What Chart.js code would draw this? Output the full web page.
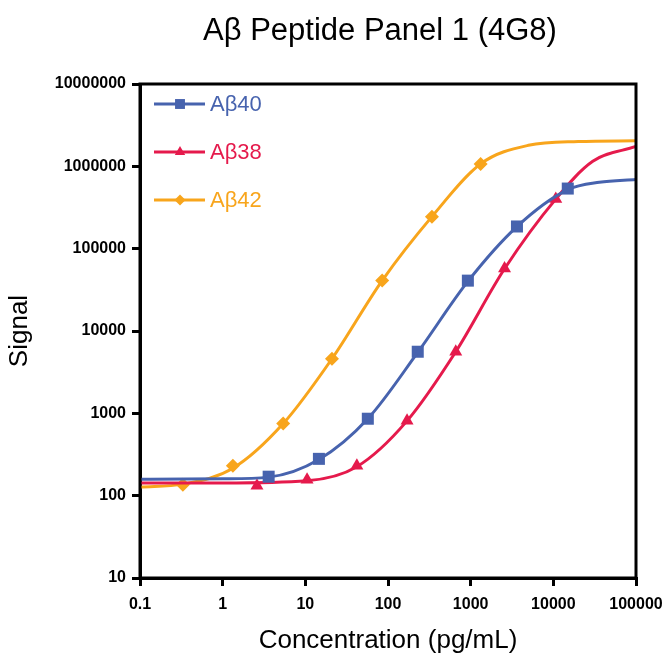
<!DOCTYPE html>
<html>
<head>
<meta charset="utf-8">
<script src="https://cdn.jsdelivr.net/npm/chart.js@4"></script>
<style>
    html, body { margin: 0; padding: 0; background: #fff; }
    #wrap { width: 666px; height: 660px; }
</style>
</head>
<body>
<div id="wrap"><canvas id="firstChart" width="666" height="660"></canvas></div>
<script>
// ---- data ----
const seriesNames = ["Aβ40", "Aβ38", "Aβ42"];
const seriesColors = ["#4763AE", "#E51A4C", "#F8A51C"];
const seriesMarkers = ["rect", "triangle", "rectRot"];

// measured points (markers)
const ab40X = [3.6, 14.6, 57, 229, 925, 3630, 14950];
const ab40Y = [170, 280, 860, 5600, 40900, 186000, 537000];
const ab38X = [2.6, 10.5, 42, 170, 660, 2570, 10700];
const ab38Y = [132, 156, 231, 815, 5600, 57500, 400000];
const ab42X = [0.33, 1.33, 5.4, 21, 85, 340, 1320];
const ab42Y = [136, 231, 750, 4600, 41000, 245000, 1070000];

// fitted curves
const ab40CurveX = [0.1, 1, 3.6, 14.6, 57, 229, 925, 3630, 14950, 36000, 100000];
const ab40CurveY = [158, 160, 168, 275, 860, 5500, 40000, 185000, 520000, 640000, 690000];
const ab38CurveX = [0.1, 1, 10.5, 42, 170, 660, 2570, 10700, 30000, 100000];
const ab38CurveY = [143, 143, 152, 225, 810, 5600, 57000, 400000, 1150000, 1740000];
const ab42CurveX = [0.1, 0.33, 1.33, 5.4, 21, 85, 340, 1320, 5000, 20000, 100000];
const ab42CurveY = [127, 138, 215, 750, 4600, 41000, 245000, 1070000, 1800000, 2000000, 2040000];

const xTicks = [0.1, 1, 10, 100, 1000, 10000, 100000];
const yTicks = [10, 100, 1000, 10000, 100000, 1000000, 10000000];

const chartTitle = "Aβ Peptide Panel 1 (4G8)";
const xTitle = "Concentration (pg/mL)";
const yTitle = "Signal";

const FONT = "'Liberation Sans', Arial, sans-serif";

function toPoints(xs, ys) {
    return xs.map((x, i) => ({ x: x, y: ys[i] }));
}

const pointSets = [[ab40X, ab40Y], [ab38X, ab38Y], [ab42X, ab42Y]];
const curveSets = [[ab40CurveX, ab40CurveY], [ab38CurveX, ab38CurveY], [ab42CurveX, ab42CurveY]];
const markerRadius = [8.5, 7.5, 7];

const datasets = [];
seriesNames.forEach((name, i) => {
    datasets.push({
        label: name + " fit",
        data: toPoints(curveSets[i][0], curveSets[i][1]),
        borderColor: seriesColors[i],
        borderWidth: 3,
        pointRadius: 0,
        cubicInterpolationMode: "monotone",
        fill: false,
        isFit: true,
    });
    datasets.push({
        label: name,
        data: toPoints(pointSets[i][0], pointSets[i][1]),
        showLine: false,
        pointStyle: seriesMarkers[i],
        pointRadius: markerRadius[i],
        pointBackgroundColor: seriesColors[i],
        pointBorderColor: seriesColors[i],
        pointBorderWidth: 0,
        markerIndex: i,
    });
});

// box around the plot area
const frameBox = {
    id: "frameBox",
    afterDatasetsDraw(chart) {
        const a = chart.chartArea;
        const ctx = chart.ctx;
        ctx.save();
        ctx.strokeStyle = "#000";
        ctx.lineWidth = 3;
        ctx.strokeRect(a.left, a.top, a.right - a.left, a.bottom - a.top);
        ctx.restore();
    },
};

// title centred over the plot area
const plotTitle = {
    id: "plotTitle",
    afterDraw(chart) {
        const ctx = chart.ctx;
        const a = chart.chartArea;
        ctx.save();
        ctx.fillStyle = "#000";
        ctx.font = "31px " + FONT;
        ctx.textAlign = "center";
        ctx.textBaseline = "middle";
        ctx.fillText(chartTitle, (a.left + a.right) / 2 - 8, 31);
        ctx.restore();
    },
};

// legend drawn inside the plot, line + marker + coloured text
const insideLegend = {
    id: "insideLegend",
    afterDraw(chart) {
        const ctx = chart.ctx;
        const a = chart.chartArea;
        ctx.save();
        chart.data.datasets.forEach((ds) => {
            if (ds.isFit) return;
            const i = ds.markerIndex;
            const y = a.top + 20 + i * 48;
            const x0 = a.left + 14;
            ctx.strokeStyle = seriesColors[i];
            ctx.lineWidth = 3;
            ctx.beginPath();
            ctx.moveTo(x0, y);
            ctx.lineTo(x0 + 51, y);
            ctx.stroke();
            ctx.fillStyle = seriesColors[i];
            Chart.helpers.drawPoint(ctx, {
                pointStyle: ds.pointStyle,
                rotation: 0,
                radius: ds.pointRadius - 1.5,
                borderWidth: 0,
            }, x0 + 26, y);
            ctx.font = "22px " + FONT;
            ctx.textBaseline = "middle";
            ctx.textAlign = "left";
            ctx.fillText(ds.label, x0 + 56, y + 1);
        });
        ctx.restore();
    },
};

const ctx = document.getElementById("firstChart");
const liveChart = new Chart(ctx, {
    type: "line",
    data: { datasets: datasets },
    plugins: [frameBox, insideLegend, plotTitle],
    options: {
        responsive: false,
        animation: false,
        layout: { padding: { left: 0, right: 30, top: 84, bottom: 0 } },
        plugins: {
            legend: { display: false },
            tooltip: { enabled: false },
            title: { display: false },
        },
        scales: {
            x: {
                type: "logarithmic",
                min: 0.1,
                max: 100000,
                afterBuildTicks(scale) {
                    scale.ticks = xTicks.map((v) => ({ value: v }));
                },
                afterFit(scale) {
                    scale.height = 82;
                    scale.paddingLeft = 0;
                    scale.paddingRight = 0;
                },
                ticks: {
                    color: "#000",
                    font: { family: FONT, size: 16, weight: "bold" },
                    padding: 9,
                    maxRotation: 0,
                    autoSkip: false,
                    callback: (v) => String(v),
                },
                grid: { drawOnChartArea: false, drawTicks: true, tickLength: 8, lineWidth: 3, color: "#000" },
                border: { display: true, width: 3, color: "#000" },
                title: {
                    display: true,
                    text: xTitle,
                    color: "#000",
                    font: { family: FONT, size: 26 },
                    padding: { top: 8 },
                },
            },
            y: {
                type: "logarithmic",
                min: 10,
                max: 10000000,
                afterBuildTicks(scale) {
                    scale.ticks = yTicks.map((v) => ({ value: v }));
                },
                afterFit(scale) {
                    scale.width = 140;
                    scale.paddingTop = 0;
                    scale.paddingBottom = 0;
                },
                ticks: {
                    color: "#000",
                    font: { family: FONT, size: 16, weight: "bold" },
                    padding: 6,
                    autoSkip: false,
                    callback: (v) => String(v),
                },
                grid: { drawOnChartArea: false, drawTicks: true, tickLength: 8, lineWidth: 3, color: "#000" },
                border: { display: true, width: 3, color: "#000" },
                title: {
                    display: true,
                    text: yTitle,
                    color: "#000",
                    font: { family: FONT, size: 26 },
                    padding: { bottom: 4 },
                },
            },
        },
    },
});
</script>
</body>
</html>
